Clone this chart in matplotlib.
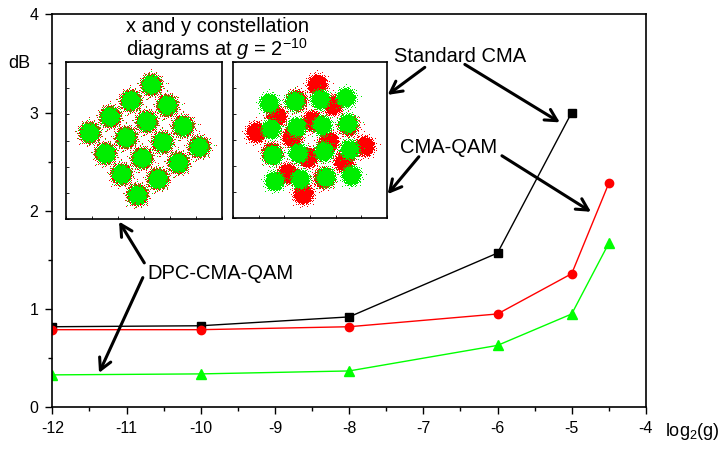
import numpy as np
import matplotlib
matplotlib.use("Agg")
import matplotlib.pyplot as plt

plt.rcParams['font.family'] = ['Liberation Sans', 'DejaVu Sans']
plt.rcParams['mathtext.fontset'] = 'custom'
plt.rcParams['mathtext.rm'] = 'Liberation Sans'
plt.rcParams['mathtext.it'] = 'Liberation Sans:italic'
plt.rcParams['axes.unicode_minus'] = False

# penalty in dB vs log2(g)
x_std = [-12, -10, -8, -6, -5]
y_std = [0.82, 0.83, 0.92, 1.57, 3.0]
x_qam = [-12, -10, -8, -6, -5, -4.5]
y_qam = [0.79, 0.79, 0.82, 0.95, 1.36, 2.28]
x_dpc = [-12, -10, -8, -6, -5, -4.5]
y_dpc = [0.33, 0.34, 0.37, 0.63, 0.95, 1.67]

# 16-QAM levels and rotation of each constellation (degrees)
levels = [-1.5, -0.5, 0.5, 1.5]
rot_left_red = 37.7
rot_left_green = 37.7
rot_right_red = 37.7
rot_right_green = 4.0

def qam_points(angle):
    a = np.deg2rad(angle)
    gx, gy = np.meshgrid(levels, levels)
    gx = gx.ravel(); gy = gy.ravel()
    return gx*np.cos(a) - gy*np.sin(a), gx*np.sin(a) + gy*np.cos(a)

def cloud(cx, cy, sigma, n=1200):
    # sunflower spread with gaussian radial profile
    k = np.arange(n)
    u = (k + 0.5) / n
    r = sigma * np.sqrt(-2*np.log(1 - u))
    t = k * 2.39996 + 0.37*np.sqrt(k)
    return cx + r*np.cos(t), cy + r*np.sin(t)

def draw_const(ax, angle, sigma, color):
    px, py = qam_points(angle)
    xs, ys = [], []
    for cx, cy in zip(px, py):
        a, b = cloud(cx, cy, sigma)
        xs.append(a); ys.append(b)
    ax.plot(np.concatenate(xs), np.concatenate(ys), ',', color=color)

W, H = 725, 450
fig = plt.figure(figsize=(W/100, H/100), dpi=100)
ax = fig.add_axes([52.3/W, 1-407.3/H, 593.6/W, 393/H])

ax.plot(x_std, y_std, '-s', color='black', lw=1.0, ms=5.5)
ax.plot(x_qam, y_qam, '-o', color='#ff0000', lw=1.0, ms=6)
ax.plot(x_dpc, y_dpc, '-^', color='#00ff00', lw=1.0, ms=7)

ax.set_xlim(-12, -4)
ax.set_ylim(0, 4)
ax.set_xticks(range(-12, -3))
ax.set_yticks(range(0, 5))
ax.set_xticks(np.arange(-11.5, -4, 1), minor=True)
ax.set_yticks(np.arange(0.5, 4, 1), minor=True)
ax.tick_params(which='major', direction='out', length=5, width=1, labelsize=11.5, pad=5)
ax.tick_params(which='minor', direction='out', length=3, width=1)
for s in ax.spines.values():
    s.set_linewidth(1.2)

fig.text(8/W, 1-68/H, 'dB', fontsize=13)
fig.text(665/W, 1-436/H, 'log$_2$(g)', fontsize=13)

# constellation insets
axl = fig.add_axes([66/W, 1-219/H, 156/W, 157/H])
axr = fig.add_axes([233/W, 1-218/H, 154/W, 156/H])
draw_const(axl, rot_left_red, 0.165, '#ff0000')
draw_const(axl, rot_left_green, 0.15, '#00ee00')
draw_const(axr, rot_right_red, 0.16, '#ff0000')
draw_const(axr, rot_right_green, 0.15, '#00ee00')
for a in (axl, axr):
    a.set_xlim(-3, 3)
    a.set_ylim(-3, 3)
    a.set_xticks(range(-3, 4))
    a.set_yticks(range(-3, 4))
    a.tick_params(direction='in', length=2, width=0.6, labelbottom=False, labelleft=False)
    for s in a.spines.values():
        s.set_linewidth(1.2)

ax.text(-11.0, 3.82, 'x and y constellation', fontsize=14.5)
ax.text(-11.0, 3.58, 'diagrams at $g$ = 2$^{-10}$', fontsize=14.5)
ax.text(-7.39, 3.51, 'Standard CMA', fontsize=14.5)
ax.text(-7.31, 2.59, 'CMA-QAM', fontsize=14.5)
ax.text(-10.72, 1.31, 'DPC-CMA-QAM', fontsize=14.5)

arrows = [((-6.98, 3.46), (-7.48, 3.18)),
          ((-6.44, 3.49), (-5.16, 2.90)),
          ((-7.06, 2.55), (-7.48, 2.17)),
          ((-5.94, 2.56), (-4.74, 1.99)),
          ((-10.76, 1.47), (-11.10, 1.89)),
          ((-10.78, 1.32), (-11.37, 0.35))]
for tail, head in arrows:
    ax.annotate('', xy=head, xytext=tail, annotation_clip=False,
                arrowprops=dict(arrowstyle='->,head_length=0.75,head_width=0.4',
                                lw=2.2, color='black', mutation_scale=11,
                                shrinkA=0, shrinkB=0))

fig.savefig('out.png', dpi=100)
